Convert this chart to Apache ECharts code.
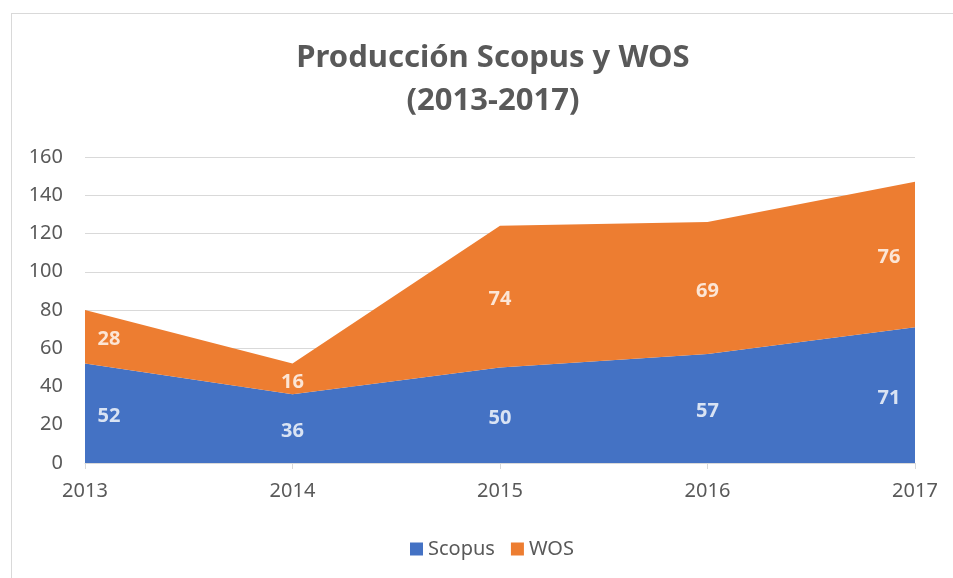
<!DOCTYPE html>
<html><head><meta charset="utf-8">
<script src="https://cdn.jsdelivr.net/npm/echarts@6/dist/echarts.min.js"></script>
<style>
html,body{margin:0;padding:0;background:#fff;overflow:hidden}
#frame{position:absolute;left:11px;top:13px;width:1000px;height:600px;border:1px solid #d9d9d9;box-sizing:border-box}
#c{position:absolute;left:0;top:0;width:953px;height:578px}
</style></head>
<body><div id="frame"></div><div id="c"></div>
<script>
const categories = ['2013','2014','2015','2016','2017'];
const scopus = [52, 36, 50, 57, 71];
const wos = [28, 16, 74, 69, 76];
const titleLines = ['Producción Scopus y WOS', '(2013-2017)'];

const font = 'Noto Sans, Open Sans, sans-serif';
const grey = '#595959';
const edgeOffset = (i) => i === 0 ? [24, 3] : (i === categories.length - 1 ? [-26, 3] : [0, 3]);

const scopusLabels = scopus.map((v, i) => ({ value: [i, v / 2], raw: v, label: { offset: edgeOffset(i) } }));
const wosLabels = wos.map((v, i) => ({ value: [i, scopus[i] + v / 2], raw: v, label: { offset: edgeOffset(i) } }));
const labelStyle = { show: true, position: 'inside', color: '#fff', fontWeight: 'bold', fontSize: 20, fontFamily: font,
  formatter: p => String(p.data.raw) };

const chart = echarts.init(document.getElementById('c'), null, { renderer: 'canvas' });
chart.setOption({
  animation: false,
  backgroundColor: 'transparent',
  title: { text: titleLines.join('\n'), left: 488, textAlign: 'center', top: 32,
    textStyle: { color: grey, fontSize: 31, fontWeight: 'bold', fontFamily: font, lineHeight: 43 } },
  legend: { bottom: 14, left: 405, itemWidth: 13, itemHeight: 13, itemGap: 16,
    icon: 'rect', data: ['Scopus', 'WOS'],
    textStyle: { color: grey, fontSize: 20, fontFamily: font } },
  grid: { left: 85, right: 38, top: 157, bottom: 115 },
  xAxis: { type: 'category', data: categories, boundaryGap: false,
    axisLine: { lineStyle: { color: '#d9d9d9' } },
    axisTick: { show: true, length: 6, lineStyle: { color: '#d9d9d9' } },
    axisLabel: { color: grey, fontSize: 20, fontFamily: font, margin: 18 } },
  yAxis: { type: 'value', min: 0, max: 160, interval: 20,
    axisLine: { show: false }, axisTick: { show: false },
    splitLine: { lineStyle: { color: '#d9d9d9' } },
    axisLabel: { color: grey, fontSize: 20, fontFamily: font, margin: 22 } },
  series: [
    { name: 'Scopus', type: 'line', stack: 'total', data: scopus, symbol: 'none',
      lineStyle: { width: 0 }, areaStyle: { color: '#4472C4', opacity: 1 }, itemStyle: { color: '#4472C4' } },
    { name: 'WOS', type: 'line', stack: 'total', data: wos, symbol: 'none',
      lineStyle: { width: 0 }, areaStyle: { color: '#ED7D31', opacity: 1 }, itemStyle: { color: '#ED7D31' } },
    { type: 'scatter', data: scopusLabels, symbolSize: 0, label: labelStyle, silent: true, z: 5 },
    { type: 'scatter', data: wosLabels, symbolSize: 0, label: labelStyle, silent: true, z: 5 }
  ]
});
</script></body></html>
